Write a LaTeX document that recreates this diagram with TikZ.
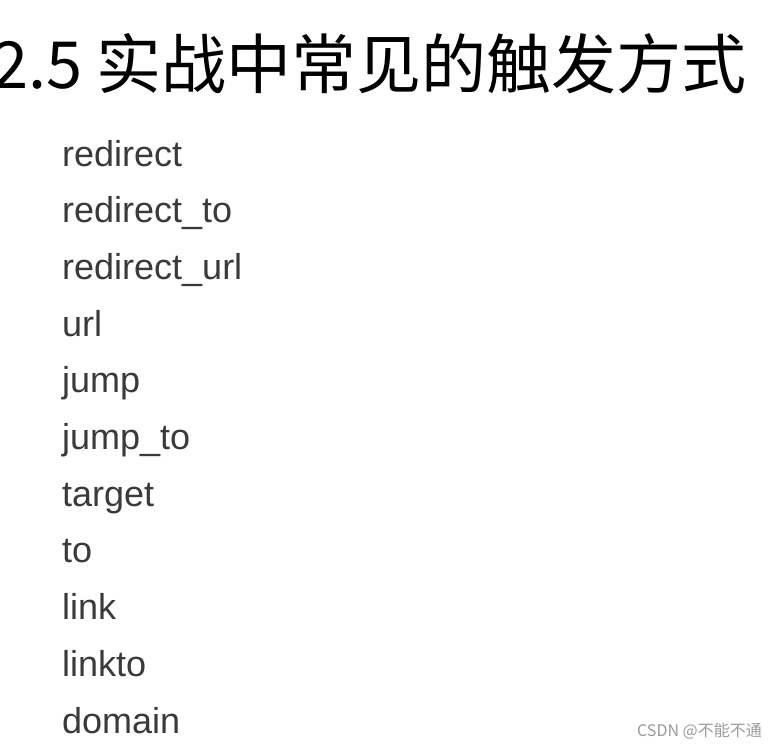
\documentclass[tikz,border=0pt]{standalone}
\usepackage{fontspec}
\setmainfont{Liberation Sans}
\newfontfamily\cjk{Noto Sans CJK SC}
\definecolor{itemgray}{HTML}{3A3A3A}
\definecolor{markgray}{HTML}{9A9A9A}
\begin{document}
\begin{tikzpicture}[x=1pt, y=1pt,
    item/.style={anchor=base west, inner sep=0pt, text=itemgray, font=\fontsize{36}{36}\selectfont},
    heading/.style={anchor=base west, inner sep=0pt, font=\cjk\fontsize{65}{65}\selectfont}]
    \useasboundingbox (0,0) rectangle (777,-748);

    % Title
    \node[heading] (title) at (-8,-88) {2.5 实战中常见的触发方式};

    % List of trigger parameters
    \foreach \word [count=\i] in {redirect,redirect\_to,redirect\_url,url,jump,jump\_to,target,to,link,linkto,domain} {
        \node[item] (w\i) at (62,{-166-(\i-1)*56.7}) {\word};
    }

    % Watermark
    \node[anchor=base east, inner sep=0pt, text=markgray, font=\cjk\fontsize{16}{16}\selectfont] (mark) at (762,-736) {CSDN @不能不通};
\end{tikzpicture}
\end{document}
